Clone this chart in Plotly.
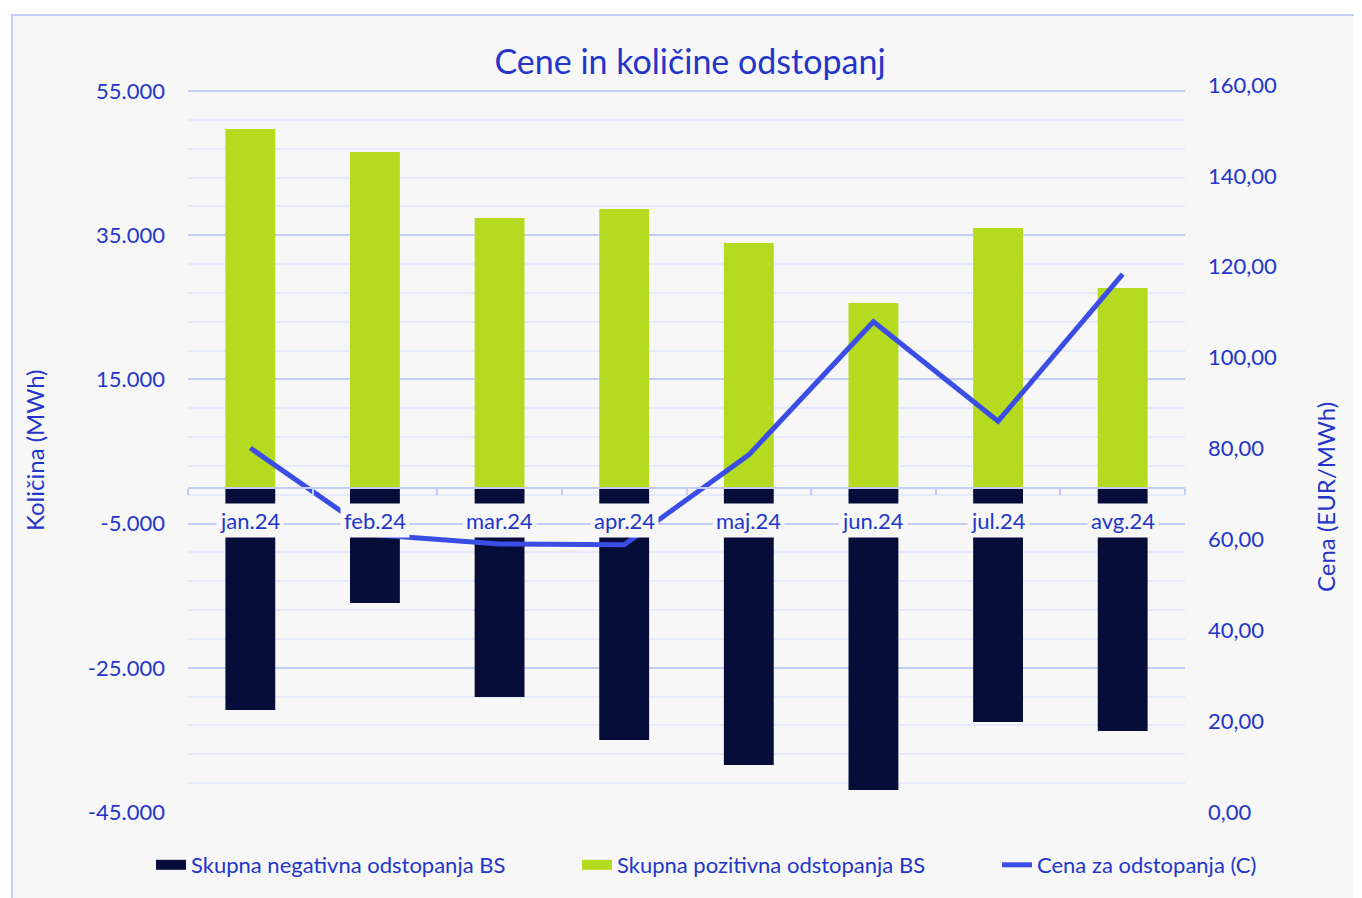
import plotly.graph_objects as go

months = ["jan.24", "feb.24", "mar.24", "apr.24", "maj.24", "jun.24", "jul.24", "avg.24"]
negative = [-30850, -16010, -29050, -35010, -38480, -41950, -32520, -33770]
positive = [49730, 46540, 37390, 38630, 33920, 25600, 36000, 27680]
price = [80.1, 61.0, 59.0, 58.8, 78.6, 107.9, 86.0, 118.4]

left_ticks = [-45000, -25000, -5000, 15000, 35000, 55000]
left_text = ["-45.000", "-25.000", "-5.000", "15.000", "35.000", "55.000"]
right_ticks = [0, 20, 40, 60, 80, 100, 120, 140, 160]
right_text = ["0,00", "20,00", "40,00", "60,00", "80,00", "100,00", "120,00", "140,00", "160,00"]

TXT = "#2336c9"
NAVY = "#060d38"
GREEN = "#b4db20"
LINE = "#3a4ee6"
BG = "#f7f7f7"
GRID = "#c5cbf7"
MINOR = "#e6e9fb"
FONT = "Lato"

# page body has an 8px margin: figure is placed at (8, 8)
OFF = 8
W, H = 1362 - OFF, 898 - OFF
L, R, T, B = 188 - OFF, 1362 - 1185, 85 - OFF, 898 - 812
PW, PH = 997, 727


def px_x(px):
    return (px - 188) / PW


def px_y(py):
    return (812 - py) / PH


# left axis spans 721 px for 100000 units; the plot area is 727 px tall
left_top = -45000 + 100000 * PH / 721

fig = go.Figure()
fig.add_trace(go.Bar(x=months, y=negative, name="Skupna negativna odstopanja BS",
                     marker=dict(color=NAVY, line=dict(width=0)), width=0.4, showlegend=False))
fig.add_trace(go.Bar(x=months, y=positive, name="Skupna pozitivna odstopanja BS",
                     marker=dict(color=GREEN, line=dict(width=0)), width=0.4, showlegend=False))
fig.add_trace(go.Scatter(x=months, y=price, name="Cena za odstopanja (C)", yaxis="y2",
                         mode="lines", line=dict(color=LINE, width=5), showlegend=False))

# legend entries
fig.add_trace(go.Scatter(x=[None], y=[None], mode="lines", name="Skupna negativna odstopanja BS",
                         line=dict(color=NAVY, width=14), legend="legend"))
fig.add_trace(go.Scatter(x=[None], y=[None], mode="lines", name="Skupna pozitivna odstopanja BS",
                         line=dict(color=GREEN, width=14), legend="legend2"))
fig.add_trace(go.Scatter(x=[None], y=[None], mode="lines", name="Cena za odstopanja (C)",
                         line=dict(color=LINE, width=5), legend="legend3"))

for m in months:
    fig.add_annotation(x=m, y=-4500, xref="x", yref="y", text=m, showarrow=False,
                       font=dict(family=FONT, size=22, color=TXT), bgcolor=BG, borderpad=3)

fig.add_annotation(x=px_x(35), y=px_y(450), xref="paper", yref="paper",
                   xanchor="center", yanchor="middle",
                   text="Količina (MWh)", textangle=-90, showarrow=False,
                   font=dict(family=FONT, size=24, color=TXT))
fig.add_annotation(x=px_x(1325), y=px_y(497), xref="paper", yref="paper",
                   xanchor="center", yanchor="middle",
                   text="Cena (EUR/MWh)", textangle=-90, showarrow=False,
                   font=dict(family=FONT, size=24, color=TXT))

fig.add_shape(type="rect", xref="paper", yref="paper",
              x0=px_x(12), x1=1.3, y0=-0.3, y1=px_y(15),
              fillcolor=BG, line=dict(color="#c8cdf8", width=2), layer="below")

legfont = dict(family=FONT, size=22, color=TXT)


def leg(xpx):
    return dict(orientation="h", x=px_x(xpx), y=px_y(865), xref="paper", yref="paper",
                xanchor="left", yanchor="middle", bgcolor="rgba(0,0,0,0)",
                font=legfont, itemwidth=30)


fig.update_layout(
    width=W, height=H,
    margin=dict(l=L, r=R, t=T, b=B, autoexpand=False),
    paper_bgcolor="white", plot_bgcolor="rgba(0,0,0,0)",
    barmode="relative", bargap=0.6,
    font=dict(family=FONT, color=TXT, size=22),
    title=dict(text="Cene in količine odstopanj", x=(690 - OFF) / W, xref="container",
               y=1 - (62 - OFF) / H, yref="container", xanchor="center", yanchor="middle",
               font=dict(family=FONT, size=34, color=TXT)),
    xaxis=dict(anchor="free", position=px_y(487.6), showline=True, linecolor=GRID,
               linewidth=2, ticks="outside", ticklen=6, tickcolor=GRID, tickwidth=2,
               tickson="boundaries", showticklabels=False, showgrid=False, zeroline=False),
    yaxis=dict(domain=[0, 1], range=[-45000, left_top], tickvals=left_ticks,
               ticktext=left_text, showgrid=True, gridcolor=GRID, gridwidth=2,
               zeroline=False, ticklabelstandoff=22,
               tickfont=dict(family=FONT, size=22, color=TXT),
               minor=dict(dtick=4000, tick0=-45000, showgrid=True, gridcolor=MINOR,
                          gridwidth=2)),
    yaxis2=dict(range=[0, 160], overlaying="y", side="right", anchor="x",
                tickvals=right_ticks, ticktext=right_text, showgrid=False, zeroline=False,
                ticklabelstandoff=22, tickfont=dict(family=FONT, size=22, color=TXT)),
    legend=leg(151),
    legend2=leg(577),
    legend3=leg(997),
    showlegend=True,
)

fig.write_html("out.html")
